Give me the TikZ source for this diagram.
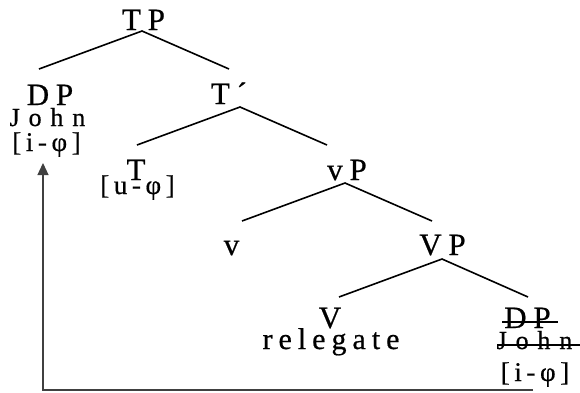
\documentclass[tikz,border=0pt]{standalone}
\usepackage{fontspec}
\setmainfont{Liberation Serif}[FakeBold=0.6]
\usetikzlibrary{arrows.meta}
\begin{document}
\begin{tikzpicture}[x=1pt,y=-1pt,
  lab/.style={inner sep=0pt,anchor=base,font=\fontsize{31}{31}\selectfont\addfontfeature{LetterSpace=22}},
  word/.style={inner sep=0pt,anchor=base,font=\fontsize{30}{30}\selectfont\addfontfeature{LetterSpace=20}},
  sub/.style={inner sep=0pt,anchor=base,font=\fontsize{26}{26}\selectfont\addfontfeature{LetterSpace=34}},
  feat/.style={inner sep=0pt,anchor=base,font=\fontsize{27}{27}\selectfont\addfontfeature{LetterSpace=17}},
  branch/.style={line width=1.6pt},
  strike/.style={line width=1.6pt},
  move/.style={line width=1.3pt,draw=black!75,-{Triangle[length=12pt,width=11pt]}}]
\useasboundingbox (0,0) rectangle (580,392);
% nodes
\node[lab] (TP) at (143.5,30) {TP};
\node[lab] (DP1) at (50,105) {DP};
\node[sub] (John1) at (47.5,126) {John};
\node[feat] (f1) at (46.5,151) {[i-φ]};
\node[lab] (Tbar) at (229,104) {T´};
\node[lab] (T) at (136,180) {T};
\node[feat] (f2) at (137.5,194) {[u-φ]};
\node[lab] (vP) at (347,180) {vP};
\node[lab] (v) at (231.5,255) {v};
\node[lab] (VP) at (442.5,255) {VP};
\node[lab] (V) at (330,328) {V};
\node[word] (rel) at (331,349) {relegate};
\node[lab] (DP2) at (527.5,328) {DP};
\node[sub] (John2) at (534.5,349) {John};
\node[feat] (f3) at (535,381) {[i-φ]};
% branch end points
\coordinate (TPb) at (142,31);
\coordinate (DP1t) at (39,69);
\coordinate (Tbart) at (229,69);
\coordinate (Tbarb) at (240,107);
\coordinate (Tt) at (137,145);
\coordinate (vPt) at (327,145);
\coordinate (vPb) at (345,183);
\coordinate (vt) at (242,221);
\coordinate (VPt) at (432,221);
\coordinate (VPb) at (442,259);
\coordinate (Vt) at (339,297);
\coordinate (DP2t) at (528,297);
\draw[branch] (DP1t) -- (TPb) -- (Tbart);
\draw[branch] (Tt) -- (Tbarb) -- (vPt);
\draw[branch] (vt) -- (vPb) -- (VPt);
\draw[branch] (Vt) -- (VPb) -- (DP2t);
% strike-through
\coordinate (s1a) at (502,322);
\coordinate (s1b) at (558,322);
\coordinate (s2a) at (497,345);
\coordinate (s2b) at (580,345);
\draw[strike] (s1a) -- (s1b);
\draw[strike] (s2a) -- (s2b);
% movement arrow
\coordinate (mvR) at (533,390);
\coordinate (mvC) at (43,390);
\coordinate (mvT) at (43,163);
\draw[move] (mvR) -- (mvC) -- (mvT);
\end{tikzpicture}
\end{document}
